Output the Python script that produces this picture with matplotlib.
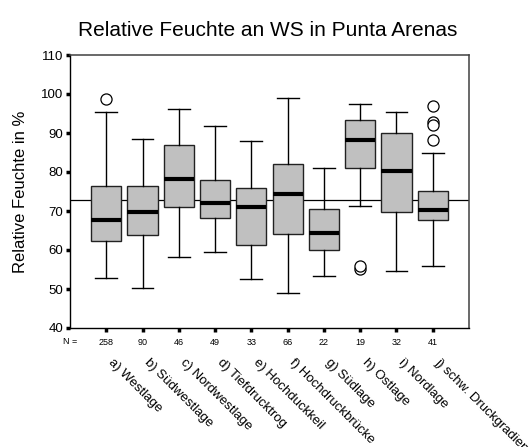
import matplotlib

matplotlib.use("Agg")
import matplotlib.pyplot as plt

plt.rcParams["font.family"] = ["Liberation Sans", "DejaVu Sans"]

# Weather situations (Wetterlagen) and box statistics
categories = [
    "a) Westlage",
    "b) Südwestlage",
    "c) Nordwestlage",
    "d) Tiefdrucktrog",
    "e) Hochduckkeil",
    "f) Hochdruckbrücke",
    "g) Südlage",
    "h) Ostlage",
    "i) Nordlage",
    "j) schw. Druckgradient",
]
n_counts = [258, 90, 46, 49, 33, 66, 22, 19, 32, 41]
whislo = [52.7, 50.3, 58.3, 59.6, 52.5, 48.9, 53.4, 71.2, 54.6, 56.0]
q1 = [62.2, 63.8, 70.9, 68.3, 61.2, 64.2, 59.9, 80.9, 69.8, 67.6]
med = [67.6, 69.8, 78.2, 72.1, 70.9, 74.3, 64.4, 88.2, 80.2, 70.2]
q3 = [76.5, 76.5, 86.9, 77.9, 76.0, 82.1, 70.4, 93.3, 90.0, 75.2]
whishi = [95.3, 88.5, 96.2, 91.8, 87.9, 99.0, 81.1, 97.5, 95.3, 84.9]
fliers = [[98.7], [], [], [], [], [], [], [55.2, 55.8], [], [96.9, 92.7, 92.0, 88.1]]
overall_mean = 72.75

stats = []
for i in range(len(categories)):
    stats.append({
        "whislo": whislo[i], "q1": q1[i], "med": med[i],
        "q3": q3[i], "whishi": whishi[i], "fliers": fliers[i],
    })

fig = plt.figure(figsize=(5.3, 4.47), dpi=100)
ax = fig.add_axes([70 / 530, 1 - 328 / 447, 399 / 530, 273 / 447])

positions = list(range(1, len(categories) + 1))
ax.bxp(
    stats,
    positions=positions,
    widths=0.83,
    capwidths=0.6,
    patch_artist=True,
    boxprops=dict(facecolor="#c0c0c0", edgecolor="#222222", linewidth=1.0),
    medianprops=dict(color="black", linewidth=3.0),
    whiskerprops=dict(color="black", linewidth=1.0),
    capprops=dict(color="black", linewidth=1.0),
    flierprops=dict(marker="o", markerfacecolor="white", markeredgecolor="black",
                    markersize=8, markeredgewidth=0.9),
)
ax.axhline(overall_mean, color="black", linewidth=0.9, zorder=1)

ax.set_xlim(0, len(categories) + 1)
ax.set_ylim(40, 110)
ax.set_yticks(range(40, 111, 10))
ax.set_xticks(positions)
ax.set_xticklabels([str(n) for n in n_counts], fontsize=6.5)
ax.tick_params(axis="y", direction="out", length=3, width=2.5, labelsize=9.5, pad=2)
ax.tick_params(axis="x", direction="out", length=3, width=2.5, pad=4)

for side in ("top", "right"):
    ax.spines[side].set_color("#404040")
    ax.spines[side].set_linewidth(1.1)
for side in ("left", "bottom"):
    ax.spines[side].set_color("black")
    ax.spines[side].set_linewidth(1.0)

trans = ax.get_xaxis_transform()
ax.text(0, -0.048, "N =", transform=trans, ha="center", va="center", fontsize=6.5)
for pos, label in zip(positions, categories):
    ax.text(pos + 0.22, -0.103, label, transform=trans, rotation=-45,
            rotation_mode="anchor", ha="left", va="top", fontsize=9.5, clip_on=False)

ax.set_ylabel("Relative Feuchte in %", fontsize=12, labelpad=9)
fig.text(0.505, 1 - 31 / 447, "Relative Feuchte an WS in Punta Arenas",
         ha="center", va="center", fontsize=15)

fig.savefig("out.png", dpi=100)
